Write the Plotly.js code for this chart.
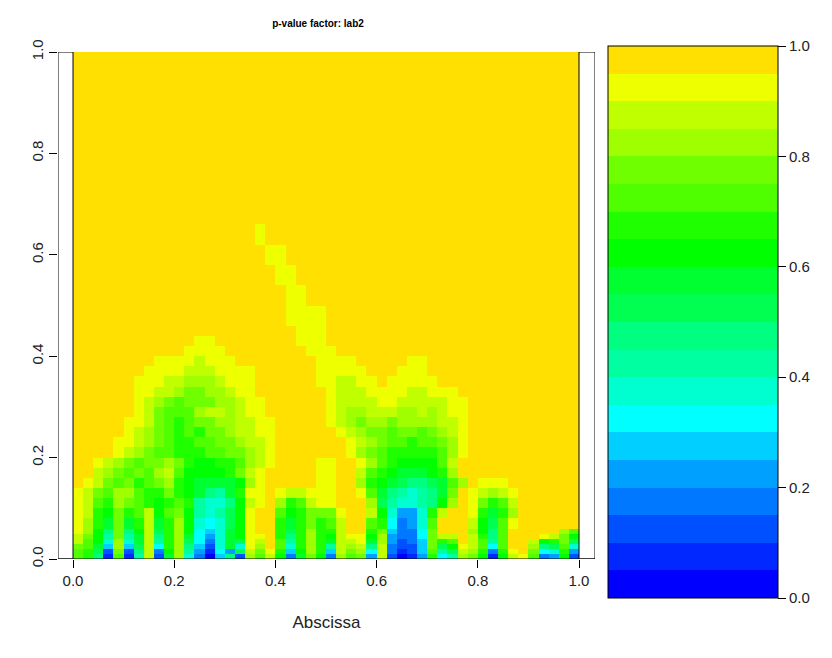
<!DOCTYPE html>
<html><head><meta charset="utf-8">
<script src="https://cdn.plot.ly/plotly-3.0.1.min.js"></script>
<style>html,body{margin:0;padding:0;background:#fff}</style>
</head><body><div id="chart" style="width:832px;height:658px"></div>
<script>
// Cell edges along the abscissa and the ordinate
const xEdges = [0,0.02,0.04,0.06,0.08,0.1,0.12,0.14,0.16,0.18,0.2,0.22,0.24,0.26,0.28,0.3,0.32,0.34,0.36,0.38,0.4,0.42,0.44,0.46,0.48,0.5,0.52,0.54,0.56,0.58,0.6,0.62,0.64,0.66,0.68,0.7,0.72,0.74,0.76,0.78,0.8,0.82,0.84,0.86,0.88,0.9,0.92,0.94,0.96,0.98,1];
const yEdges = [0,0.01,0.02,0.03,0.04,0.05,0.06,0.08,0.1,0.12,0.14,0.16,0.18,0.2,0.22,0.24,0.26,0.28,0.3,0.32,0.34,0.36,0.38,0.4,0.42,0.44,0.46,0.5,0.54,0.58,0.62,0.66,1];
// 20 p-value classes (0.05 wide), lowest first
const levelColors = ['#0000FF','#0028FF','#0050FF','#0078FF','#00A0FF','#00CFFF','#00FFFF','#00FFD0','#00FFA0','#00FF80','#00FF50','#00FF30','#00FF00','#1FFF00','#4FFF00','#70FF00','#9FFF00','#BFFF00','#EEFF00','#FFE000'];
const levelCodes = '0123456789abcdefghij';
const tickValues = [0,0.2,0.4,0.6,0.8,1];
const tickLabels = ['0.0','0.2','0.4','0.6','0.8','1.0'];
// p-value class of each cell, top row first (one code per 0.02 of abscissa)
const pvalueRows = [
 'jjjjjjjjjj jjjjjjjjjj jjjjjjjjjj jjjjjjjjjj jjjjjjjjjj',
 'jjjjjjjjjj jjjjjjjjij jjjjjjjjjj jjjjjjjjjj jjjjjjjjjj',
 'jjjjjjjjjj jjjjjjjjji ijjjjjjjjj jjjjjjjjjj jjjjjjjjjj',
 'jjjjjjjjjj jjjjjjjjjj iijjjjjjjj jjjjjjjjjj jjjjjjjjjj',
 'jjjjjjjjjj jjjjjjjjjj jiijjjjjjj jjjjjjjjjj jjjjjjjjjj',
 'jjjjjjjjjj jjjjjjjjjj jiiiijjjjj jjjjjjjjjj jjjjjjjjjj',
 'jjjjjjjjjj jjjjjjjjjj jjiiijjjjj jjjjjjjjjj jjjjjjjjjj',
 'jjjjjjjjjj jjiijjjjjj jjiiijjjjj jjjjjjjjjj jjjjjjjjjj',
 'jjjjjjjjjj jiiiijjjjj jjjiiijjjj jjjjjjjjjj jjjjjjjjjj',
 'jjjjjjjjii iihiiijjjj jjjjiiiijj jjjiijjjjj jjjjjjjjjj',
 'jjjjjjjiii ihhhiiiijj jjjjiiiiij jjiiijjjjj jjjjjjjjjj',
 'jjjjjjiiih hggghiiijj jjjjiihhii jiiiiijjjj jjjjjjjjjj',
 'jjjjjjiihh gffgghiijj jjjjjihhhi iiihhiiijj jjjjjjjjjj',
 'jjjjjjihgf efffgghiij jjjjjihhhh iihhhhhiij jjjjjjjjjj',
 'jjjjjjihfe eeghhghiij jjjjjihggh hhgghghiij jjjjjjjjjj',
 'jjjjjiihfe deffgghhii jjjjjihgfg gfgggghhij jjjjjjjjjj',
 'jjjjjihgfe dedffghhii jjjjjjihgf feffefghij jjjjjjjjjj',
 'jjjjiihgfe ddeeffghhi jjjjjjjihg feedeefgij jjjjjjjjjj',
 'jjjjihgfee dddeeffghi jjjjjjjigf edddddegij jjjjjjjjjj',
 'jjihgfeffg fdccddeghi jjjjiijjig edccccehjj jjjjjjjjjj',
 'jjhgfefegh eccccdfhij jjjjiijjhe dcbbbcdgjj jjjjjjjjjj',
 'jihfefdefg dcbbbbcgij jjjjiijjgd cba99abegj iiijjjjjjj',
 'ihfeggeddf dcb98bdiij ihhiiijjie b98789bfji hghijjjjjj',
 'ihedgfedcd ed8779chij gdehiijjjg a87789cgji fdehjjjjjj',
 'ihdcfdehce fc878acijj ecdfffijjh c7447dhjji dbdgjjjjjj',
 'igdbfbdhbd gc767acijj dbdfdehjje d6347ejjjh caeijjjjjj',
 'igc9f9chad gc657bcijj dadgddhjjd f5336fjjjg c9ejjjjjge',
 'hfc8f8bh9d gb647bciij d9dgdchiic g4336fhhjh d9ejjjihfc',
 'hec7g7bh8d ga637baihj e8dgdbhhib g4235fdejh e8ejjhcdfa',
 'feb5g5ah6d g9527b7igj e7dgd8hgh9 h3225facih e6ejjg9ae7',
 'eda2f29h3c g84164ahfi d5cgd5hfg6 h3125e8ahg d3dijf67d4',
 'ed91e18h2b g730592geh c3bfc3gef4 h2014d68gf c1chie34c2'
];

const z = pvalueRows.slice().reverse().map(r =>
  r.replace(/\s+/g,'').split('').map(c => (levelCodes.indexOf(c) + 0.5) / levelColors.length));

const colorscale = [];
levelColors.forEach((c, i) => {
  colorscale.push([i / levelColors.length, c]);
  colorscale.push([(i + 1) / levelColors.length, c]);
});

const font = 'Liberation Sans, Arial, sans-serif';
const xLo = -0.0297, xHi = 1.0316;

const trace = {
  type: 'heatmap', x: xEdges, y: yEdges, z: z,
  zmin: 0, zmax: 1, colorscale: colorscale, zsmooth: false,
  hoverinfo: 'skip',
  colorbar: {
    xref: 'paper', x: (608 - 58) / 537, xanchor: 'left', xpad: 0,
    yref: 'paper', y: (559 - 46) / 507, yanchor: 'top', ypad: 0,
    len: 552, lenmode: 'pixels', thickness: 170, thicknessmode: 'pixels',
    outlinecolor: '#000', outlinewidth: 1, borderwidth: 0,
    tickmode: 'array', tickvals: tickValues, ticktext: tickLabels,
    ticks: 'outside', ticklen: 8, tickwidth: 1, tickcolor: '#000',
    tickfont: {family: font, size: 15, color: '#222'}
  }
};

const layout = {
  width: 832, height: 658,
  margin: {l: 58, r: 237, t: 52, b: 99, pad: 0},
  paper_bgcolor: '#fff', plot_bgcolor: '#fff',
  showlegend: false,
  title: {text: '<b>p-value factor: lab2</b>', font: {family: font, size: 10, color: '#000'},
          xref: 'container', x: 318/832, xanchor: 'center', yref: 'container', y: 1 - 23/658, yanchor: 'middle'},
  xaxis: {
    range: [xLo, xHi], showgrid: false, zeroline: false, showline: false,
    tickmode: 'array', tickvals: tickValues, ticktext: tickLabels,
    ticks: 'outside', ticklen: 8, tickwidth: 1, tickcolor: '#000',
    tickfont: {family: font, size: 15, color: '#222'},
    title: {text: 'Abscissa', font: {family: font, size: 17, color: '#222'}, standoff: 28}
  },
  yaxis: {
    range: [0, 1], showgrid: false, zeroline: false, showline: false,
    tickmode: 'array', tickvals: tickValues, ticktext: tickLabels, tickangle: -90,
    ticks: 'outside', ticklen: 8, tickwidth: 1, tickcolor: '#000',
    tickfont: {family: font, size: 15, color: '#222'}
  },
  shapes: [
    {type: 'rect', xref: 'x', yref: 'y', x0: xLo, x1: 0, y0: 0, y1: 1, line: {color: '#000', width: 1}, layer: 'above'},
    {type: 'rect', xref: 'x', yref: 'y', x0: 1, x1: xHi, y0: 0, y1: 1, line: {color: '#000', width: 1}, layer: 'above'},
    {type: 'line', xref: 'x', yref: 'y', x0: xLo, x1: xHi, y0: 0, y1: 0, line: {color: '#000', width: 1}, layer: 'above'}
  ]
};

Plotly.newPlot('chart', [trace], layout, {displayModeBar: false, staticPlot: true});
</script>
</body></html>
